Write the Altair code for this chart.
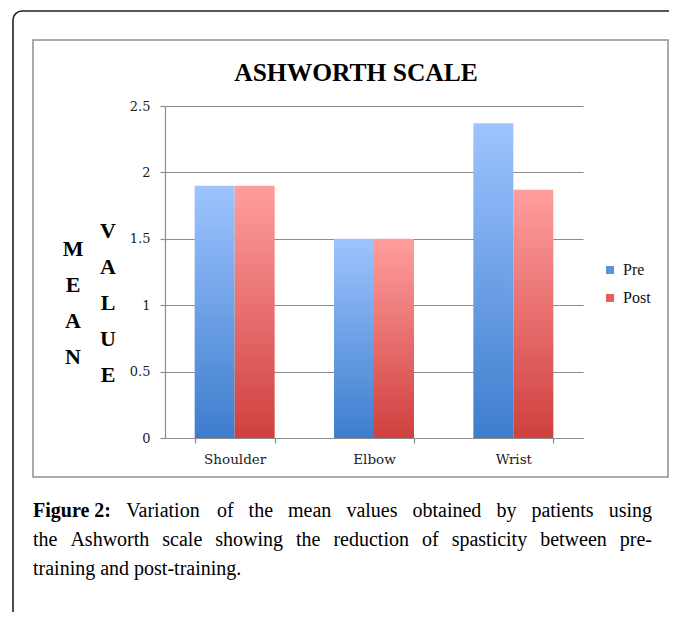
import altair as alt
import pandas as pd

# ---------------- data ----------------
categories = ["Shoulder", "Elbow", "Wrist"]
pre_values = [1.9, 1.5, 2.37]
post_values = [1.9, 1.5, 1.87]
series_names = ["Pre", "Post"]
y_ticks = [0, 0.5, 1, 1.5, 2, 2.5]
title_text = "ASHWORTH SCALE"
ylabel_col1 = ["M", "E", "A", "N"]
ylabel_col2 = ["V", "A", "L", "U", "E"]
caption_bold = "Figure 2:"
caption_lines = [
    "Variation of the mean values obtained by patients using",
    "the Ashworth scale showing the reduction of spasticity between pre-",
    "training and post-training.",
]

rows = []
for c, a, b in zip(categories, pre_values, post_values):
    rows.append({"joint": c, "series": "Pre", "value": a})
    rows.append({"joint": c, "series": "Post", "value": b})
df = pd.DataFrame(rows)

# ---------------- layout helpers ----------------
W, H = 418, 332
OX, OY = 165, 106  # page position of the plot origin
SVG_W, SVG_H = 661, 604


def px(x):
    return x - OX


def py(y):
    return y - OY


GRID = "#8c8c8c"
SERIF = "DejaVu Serif"
TIMES = "Liberation Serif"

x_enc = alt.X(
    "joint:N",
    sort=categories,
    scale=alt.Scale(paddingInner=0.426, paddingOuter=0.213),
    axis=alt.Axis(
        title=None,
        labelAngle=0,
        tickBand="extent",
        ticks=True,
        tickSize=5,
        tickColor=GRID,
        tickWidth=1.2,
        labelPadding=9,
        labelFont=SERIF,
        labelFontSize=13.5,
        labelColor="#222222",
        domainColor=GRID,
        domainWidth=1.2,
        grid=False,
    ),
)
xoff = alt.XOffset("series:N", sort=series_names, scale=alt.Scale(domain=series_names))
y_enc = alt.Y(
    "value:Q",
    scale=alt.Scale(domain=[0, 2.5], nice=False, zero=True),
    axis=alt.Axis(
        values=y_ticks,
        format="~g",
        title=None,
        tickSize=5,
        tickColor=GRID,
        tickWidth=1.2,
        labelPadding=10,
        labelFont=SERIF,
        labelFontSize=13,
        labelColor="#222222",
        domainColor=GRID,
        domainWidth=1.2,
        grid=True,
        gridColor=GRID,
        gridWidth=1.2,
    ),
)


def grad(top, bottom):
    return alt.LinearGradient(
        gradient="linear",
        x1=0, y1=0, x2=0, y2=1,
        stops=[alt.GradientStop(offset=0, color=top), alt.GradientStop(offset=1, color=bottom)],
    )


pre_layer = (
    alt.Chart(df)
    .transform_filter(alt.datum.series == "Pre")
    .mark_bar(fill=grad("#9ec4ff", "#3d7dcd"))
    .encode(x=x_enc, xOffset=xoff, y=y_enc)
)
post_layer = (
    alt.Chart(df)
    .transform_filter(alt.datum.series == "Post")
    .mark_bar(fill=grad("#ff9e9e", "#cf403e"))
    .encode(x=x_enc, xOffset=xoff, y=y_enc)
)

# zero-height bars that only carry the colour legend
legend_layer = (
    alt.Chart(df)
    .mark_bar(opacity=1)
    .encode(
        x=x_enc,
        xOffset=xoff,
        y=alt.datum(0),
        color=alt.Color(
            "series:N",
            sort=series_names,
            scale=alt.Scale(domain=series_names, range=["#5a93e3", "#e35e5c"]),
            legend=alt.Legend(
                title=None,
                orient="none",
                legendX=px(602),
                legendY=py(262),
                symbolType="square",
                symbolSize=64,
                symbolStrokeWidth=0,
                labelFont=TIMES,
                labelFontSize=16,
                labelColor="#111111",
                labelOffset=5,
                rowPadding=12,
            ),
        ),
    )
)

one = alt.Data(values=[{}])

outer_frame = alt.Chart(one).mark_rect(
    filled=False, stroke="#222222", strokeWidth=1.6, cornerRadius=9
).encode(
    x=alt.value(px(13)), x2=alt.value(px(760)), y=alt.value(py(11)), y2=alt.value(py(760))
)
inner_frame = alt.Chart(one).mark_rect(
    filled=False, stroke="#8e8e8e", strokeWidth=1.5
).encode(
    x=alt.value(px(33)), x2=alt.value(px(668)), y=alt.value(py(40)), y2=alt.value(py(477))
)

title_mark = alt.Chart(one).mark_text(
    text=title_text, font=TIMES, fontWeight="bold", fontSize=25.5,
    align="center", baseline="middle", color="#000000",
).encode(x=alt.value(px(356)), y=alt.value(py(73)))

# multi-line text: y is the centre of the first line
ylab1 = alt.Chart(one).mark_text(
    text=ylabel_col1, font=TIMES, fontWeight="bold", fontSize=22, lineHeight=36,
    align="center", baseline="middle", color="#000000",
).encode(x=alt.value(px(73)), y=alt.value(py(249)))
ylab2 = alt.Chart(one).mark_text(
    text=ylabel_col2, font=TIMES, fontWeight="bold", fontSize=22, lineHeight=36,
    align="center", baseline="middle", color="#000000",
).encode(x=alt.value(px(108)), y=alt.value(py(231)))

# ---------------- justified caption ----------------
CAP_SIZE = 20
CAP_LEFT, CAP_RIGHT = 33, 652
REG_W = {
    "a": 444, "b": 500, "c": 444, "d": 500, "e": 444, "f": 333, "g": 500, "h": 500,
    "i": 278, "j": 278, "k": 500, "l": 278, "m": 778, "n": 500, "o": 500, "p": 500,
    "q": 500, "r": 333, "s": 389, "t": 278, "u": 500, "v": 500, "w": 722, "x": 500,
    "y": 500, "z": 444, "A": 722, "F": 556, "S": 556, "V": 722, "-": 333, ".": 250,
    ":": 278, "2": 500, " ": 250,
}
BOLD_W = {"F": 611, "i": 278, "g": 500, "u": 556, "r": 444, "e": 444, " ": 250, "2": 500, ":": 333}


def text_width(s, table):
    return sum(table.get(ch, 500) for ch in s) * CAP_SIZE / 1000.0


caption_marks = []


def word_mark(word, x, y, bold=False, align="left"):
    return alt.Chart(one).mark_text(
        text=word, font=TIMES, fontSize=CAP_SIZE, fontWeight="bold" if bold else "normal",
        align=align, baseline="alphabetic", color="#000000",
    ).encode(x=alt.value(px(x)), y=alt.value(py(y)))


cap_y = [517, 546, 575]
for li, (line, cy) in enumerate(zip(caption_lines, cap_y)):
    words = line.split(" ")
    items = [(w, False) for w in words]
    if li == 0:
        items = [(caption_bold, True)] + items
    if li == len(caption_lines) - 1:
        caption_marks.append(word_mark(line, CAP_LEFT, cy))
        continue
    widths = [text_width(w, BOLD_W if b else REG_W) for w, b in items]
    gap = (CAP_RIGHT - CAP_LEFT - sum(widths)) / (len(items) - 1)
    x = CAP_LEFT
    for k, ((w, b), wd) in enumerate(zip(items, widths)):
        if k == len(items) - 1:
            caption_marks.append(word_mark(w, CAP_RIGHT, cy, b, align="right"))
        else:
            caption_marks.append(word_mark(w, x, cy, b))
        x += wd + gap

chart = alt.layer(
    outer_frame, inner_frame, legend_layer, pre_layer, post_layer,
    title_mark, ylab1, ylab2, *caption_marks,
).properties(
    width=W,
    height=H,
    autosize=alt.AutoSizeParams(type="none"),
    padding={"left": OX - 8, "top": OY - 8, "right": SVG_W - (OX - 8) - W, "bottom": SVG_H - (OY - 8) - H},
    background="white",
).configure_view(stroke=None)

chart.save("out.html", embed_options={"renderer": "svg", "actions": False})
